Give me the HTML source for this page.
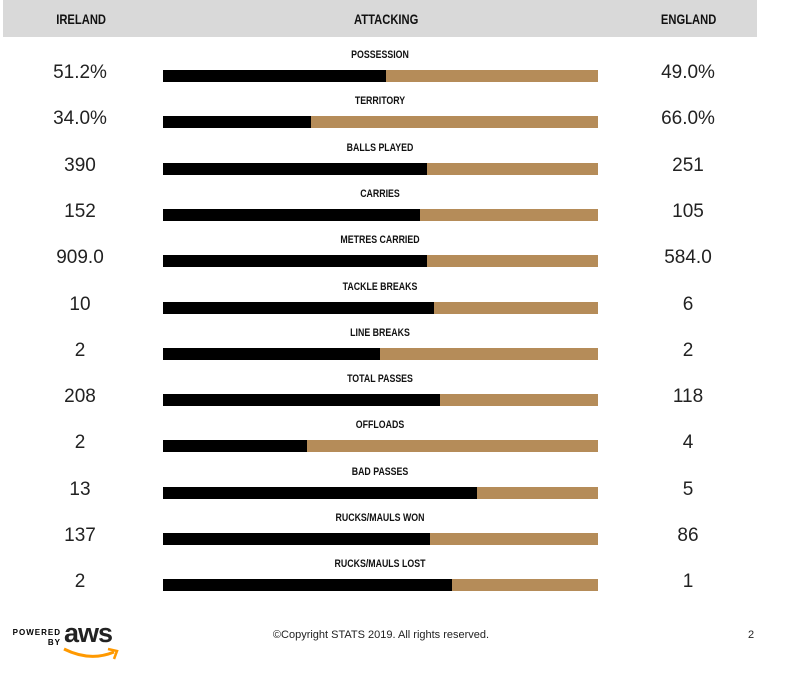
<!DOCTYPE html>
<html><head><meta charset="utf-8"><style>
body{margin:0;width:800px;height:675px;background:#fff;position:relative;overflow:hidden;font-family:"Liberation Sans",sans-serif}
.hdr{position:absolute;left:3px;top:0;width:754px;height:37px;background:#d9d9d9}
.h{position:absolute;top:11px;font:bold 14px "Liberation Sans Narrow","Liberation Sans",sans-serif;transform:scaleX(.8);color:#111}
.bar{position:absolute;left:163px;width:435px;height:12px;background:#b58c59}
.bar i{position:absolute;left:0;top:0;height:12px;background:#000}
.lab{position:absolute;left:230px;width:300px;text-align:center;font:bold 11px "Liberation Sans",sans-serif;transform:scaleX(.8);color:#111}
.v{position:absolute;width:120px;text-align:center;font-size:19px;color:#222}
</style></head><body>
<div class="hdr"></div>
<div class="h" style="left:50px">IRELAND</div>
<div class="h" style="left:346px">ATTACKING</div>
<div class="h" style="left:654px">ENGLAND</div>
<div id="rows"></div>
<div style="position:absolute;left:0;width:762px;top:629px;text-align:center;font-size:11px;color:#222">©Copyright STATS 2019. All rights reserved.</div>
<div style="position:absolute;left:748px;top:629px;font-size:11px;color:#222">2</div>
<div style="position:absolute;left:6px;top:628px;font:bold 8px 'Liberation Sans',sans-serif;letter-spacing:1px;line-height:10px;text-align:right;width:55px">POWERED<br>BY</div>
<div style="position:absolute;left:64px;top:618px;font:bold 27px 'Liberation Sans',sans-serif;color:#222;letter-spacing:-1px">aws</div>
<svg style="position:absolute;left:62px;top:644px" width="60" height="20"><path d="M2 5 Q28 18 52 8" stroke="#f90" stroke-width="3" fill="none"/><path d="M46 5 L55 7 L52 15" stroke="#f90" stroke-width="2.5" fill="none"/></svg>
<script>
var d=[["POSSESSION","51.2%","49.0%",386],["TERRITORY","34.0%","66.0%",311],["BALLS PLAYED","390","251",427],["CARRIES","152","105",420],["METRES CARRIED","909.0","584.0",427],["TACKLE BREAKS","10","6",434],["LINE BREAKS","2","2",380],["TOTAL PASSES","208","118",440],["OFFLOADS","2","4",307],["BAD PASSES","13","5",477],["RUCKS/MAULS WON","137","86",430],["RUCKS/MAULS LOST","2","1",452]];
var h="";d.forEach(function(r,i){var t=70+i*46.3;
h+='<div class="lab" style="top:'+(t-21)+'px">'+r[0]+'</div>';
h+='<div class="bar" style="top:'+t+'px"><i style="width:'+(r[3]-163)+'px"></i></div>';
h+='<div class="v" style="left:20px;top:'+(t-8)+'px">'+r[1]+'</div>';
h+='<div class="v" style="left:628px;top:'+(t-8)+'px">'+r[2]+'</div>';});
document.getElementById("rows").innerHTML=h;
</script>
</body></html>
